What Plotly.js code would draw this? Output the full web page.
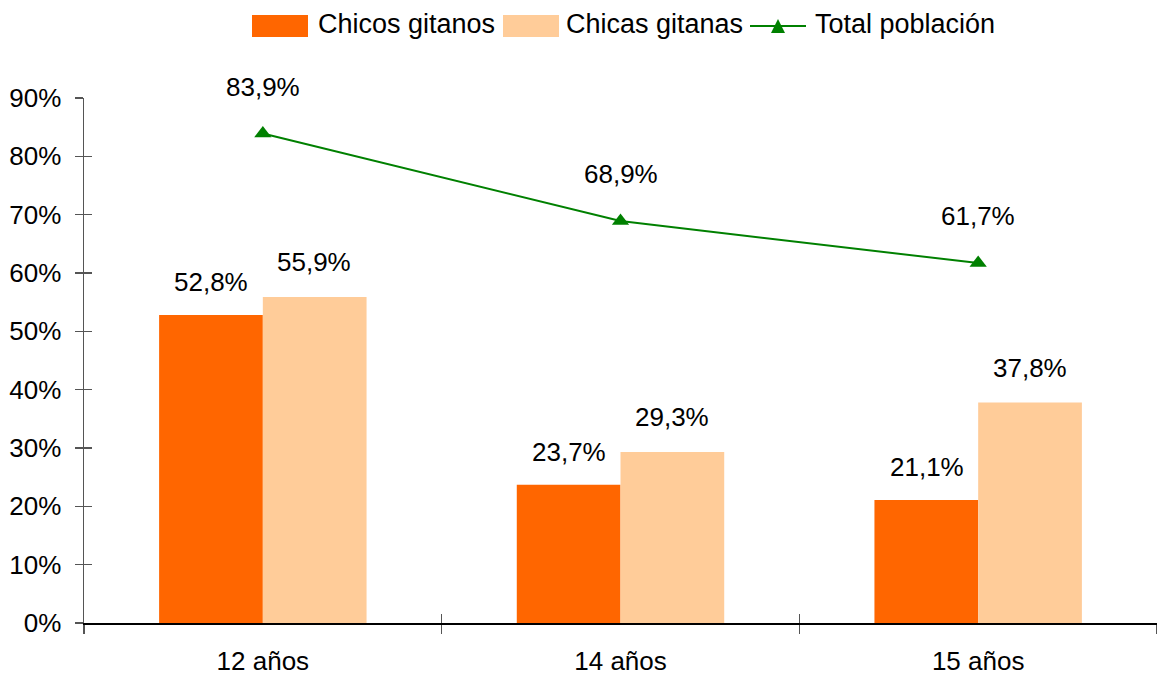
<!DOCTYPE html>
<html>
<head>
<meta charset="utf-8">
<script src="https://cdn.plot.ly/plotly-3.0.1.min.js"></script>
<style>html,body{margin:0;padding:0;background:#fff;}#chart{width:1157px;height:677px;}</style>
</head>
<body>
<div id="chart"></div>
<script>
const categories = ['12 años', '14 años', '15 años'];
const chicos = [52.8, 23.7, 21.1];
const chicas = [55.9, 29.3, 37.8];
const total = [83.9, 68.9, 61.7];
const seriesNames = ['Chicos gitanos', 'Chicas gitanas', 'Total población'];
const yTicks = [0, 10, 20, 30, 40, 50, 60, 70, 80, 90];

const FONT = '"Liberation Sans", Arial, sans-serif';
const W = 1157, H = 677, L = 84, R = 0, T = 98, B = 54;
const pw = W - L - R, ph = H - T - B;
const px = x => (x - L) / pw;
const py = y => (H - B - y) / ph;
const fmt = v => v.toFixed(1).replace('.', ',') + '%';

const COL_CHICOS = '#FF6600';
const COL_CHICAS = '#FFCC99';
const COL_TOTAL = '#008000';
const FS = 26;

const traces = [
  {type: 'bar', x: categories, y: chicos, name: seriesNames[0], marker: {color: COL_CHICOS}, hoverinfo: 'skip'},
  {type: 'bar', x: categories, y: chicas, name: seriesNames[1], marker: {color: COL_CHICAS}, hoverinfo: 'skip'},
  {type: 'scatter', mode: 'lines+markers', x: categories, y: total, name: seriesNames[2],
   line: {color: COL_TOTAL, width: 2}, marker: {symbol: 'triangle-up', size: 15, color: COL_TOTAL}, hoverinfo: 'skip'},
  {type: 'scatter', x: [0], y: [0], xaxis: 'x2', yaxis: 'y2', mode: 'markers', marker: {opacity: 0}, hoverinfo: 'skip', showlegend: false}
];

const annotations = [];
const barOff = 51.5 / (pw / 3);
categories.forEach((c, i) => {
  annotations.push({x: i - barOff, y: chicos[i], xref: 'x', yref: 'y', text: fmt(chicos[i]), showarrow: false, yshift: 33, font: {family: FONT, size: FS, color: '#000'}});
  annotations.push({x: i + barOff, y: chicas[i], xref: 'x', yref: 'y', text: fmt(chicas[i]), showarrow: false, yshift: 35, font: {family: FONT, size: FS, color: '#000'}});
  annotations.push({x: i, y: total[i], xref: 'x', yref: 'y', text: fmt(total[i]), showarrow: false, yshift: 47, font: {family: FONT, size: FS, color: '#000'}});
});

const legFont = {family: FONT, size: 27, color: '#000'};
const shapes = [
  {type: 'rect', xref: 'paper', yref: 'paper', x0: px(252), x1: px(308), y0: py(37), y1: py(15), fillcolor: COL_CHICOS, line: {width: 0}},
  {type: 'rect', xref: 'paper', yref: 'paper', x0: px(503), x1: px(559), y0: py(37), y1: py(15), fillcolor: COL_CHICAS, line: {width: 0}},
  {type: 'line', xref: 'paper', yref: 'paper', x0: px(750), x1: px(806), y0: py(26), y1: py(26), line: {color: COL_TOTAL, width: 2}},
  {type: 'path', xref: 'paper', yref: 'paper',
   path: `M${px(771)},${py(33)} L${px(785)},${py(33)} L${px(778)},${py(19)} Z`, fillcolor: COL_TOTAL, line: {width: 0}}
];
[[316, seriesNames[0]], [564, seriesNames[1]], [813, seriesNames[2]]].forEach(([x, t]) => {
  annotations.push({x: px(x), y: py(24), xref: 'paper', yref: 'paper', xanchor: 'left', yanchor: 'middle', text: t, showarrow: false, font: legFont});
});

const layout = {
  width: W, height: H,
  margin: {l: L, r: R, t: T, b: B},
  paper_bgcolor: '#fff', plot_bgcolor: '#fff',
  showlegend: false,
  barmode: 'group', bargap: 0.42, bargroupgap: 0,
  font: {family: FONT, size: FS, color: '#000'},
  xaxis: {type: 'category', showline: true, linecolor: '#000', linewidth: 1.5, tickson: 'boundaries',
          ticks: 'outside', ticklen: 9, tickcolor: '#555', tickwidth: 1.5, showgrid: false, zeroline: false,
          ticklabelstandoff: 14, tickfont: {family: FONT, size: FS, color: '#000'}},
  yaxis: {range: [0, 90], tickvals: yTicks, ticktext: yTicks.map(v => v + '%'), showline: true, linecolor: '#555', linewidth: 1.5,
          ticks: 'outside', ticklen: 8, tickcolor: '#555', tickwidth: 1.5, showgrid: false, zeroline: false,
          ticklabelstandoff: 8, tickfont: {family: FONT, size: FS, color: '#000'}},
  xaxis2: {overlaying: 'x', range: [0, 3], tickvals: [0, 1, 2, 3], ticks: 'inside', ticklen: 9, tickcolor: '#555', tickwidth: 1.5,
           showticklabels: false, showline: false, showgrid: false, zeroline: false},
  yaxis2: {overlaying: 'y', range: [0, 90], tickvals: yTicks, ticks: 'inside', ticklen: 8, tickcolor: '#555', tickwidth: 1.5,
           showticklabels: false, showline: false, showgrid: false, zeroline: false},
  annotations: annotations,
  shapes: shapes
};

Plotly.newPlot('chart', traces, layout, {displayModeBar: false, staticPlot: true});
</script>
</body>
</html>
